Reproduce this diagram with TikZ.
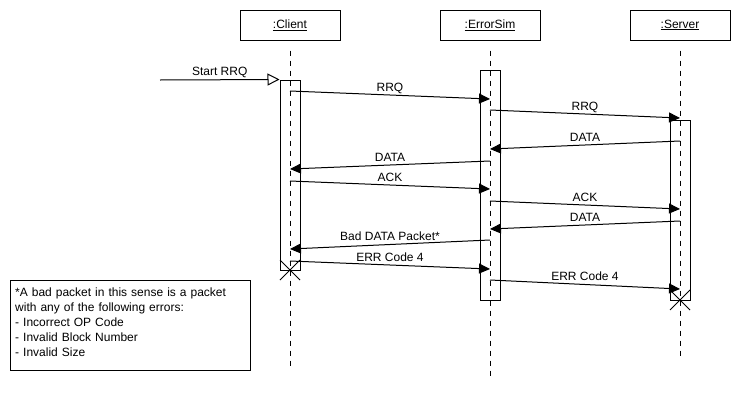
\documentclass[tikz,border=0pt]{standalone}
\usepackage{fontspec}
\setmainfont{Liberation Sans}
\usetikzlibrary{arrows.meta,calc}
\begin{document}
\begin{tikzpicture}[x=1pt,y=-1pt,
  txt/.style={font=\fontsize{12}{14}\selectfont},
  head/.style={draw, line width=1pt, minimum width=100pt, minimum height=30pt, inner sep=0pt, txt},
  life/.style={line width=1pt, dash pattern=on 5.3pt off 4.7pt},
  act/.style={draw, line width=1pt, inner sep=0pt, minimum width=20pt},
  msg/.style={line width=1pt, -{Triangle[length=11pt,width=10pt]}},
  found/.style={line width=1pt, -{Triangle[open,length=12pt,width=12pt]}},
  msglbl/.style={txt, anchor=base, yshift=4pt, inner sep=0pt},
  cross/.style={line width=0.8pt},
]
\useasboundingbox (0,0) rectangle (740,410);

% participants
\node[head] (client) at (290,25) {\underline{:Client}};
\node[head] (esim)   at (490,25) {\underline{:ErrorSim}};
\node[head] (server) at (680,25) {\underline{:Server}};

% lifeline ends
\coordinate (cend) at (290,368);
\coordinate (eend) at (490,380);
\coordinate (send) at (680,356);

% activation bars
\node[act, minimum height=190pt] (cact) at (290,175) {};
\node[act, minimum height=230pt] (eact) at (490,185) {};
\node[act, minimum height=180pt] (sact) at (680,210) {};

% lifelines
\draw[life] ([yshift=-10pt]client.south) -- (cend);
\draw[life] ([yshift=-10pt]esim.south) -- (eend);
\draw[life] ([yshift=-10pt]server.south) -- (send);

% message end points
\coordinate (start) at (160,80);
\coordinate (m1a) at (290,91);   \coordinate (m1b) at (490,99);
\coordinate (m2a) at (490,110);  \coordinate (m2b) at (680,118);
\coordinate (m3a) at (680,141);  \coordinate (m3b) at (490,149);
\coordinate (m4a) at (490,161);  \coordinate (m4b) at (290,169);
\coordinate (m5a) at (290,181);  \coordinate (m5b) at (490,189);
\coordinate (m6a) at (490,201);  \coordinate (m6b) at (680,209);
\coordinate (m7a) at (680,221);  \coordinate (m7b) at (490,229);
\coordinate (m8a) at (490,240);  \coordinate (m8b) at (290,249);
\coordinate (m9a) at (290,261);  \coordinate (m9b) at (490,269);
\coordinate (m10a) at (490,280); \coordinate (m10b) at (680,289);

% messages
\draw[found] (start) -- node[msglbl] {Start RRQ} (cact.north west);
\draw[msg] (m1a) -- node[msglbl] {RRQ} (m1b);
\draw[msg] (m2a) -- node[msglbl] {RRQ} (m2b);
\draw[msg] (m3a) -- node[msglbl] {DATA} (m3b);
\draw[msg] (m4a) -- node[msglbl] {DATA} (m4b);
\draw[msg] (m5a) -- node[msglbl] {ACK} (m5b);
\draw[msg] (m6a) -- node[msglbl] {ACK} (m6b);
\draw[msg] (m7a) -- node[msglbl] {DATA} (m7b);
\draw[msg] (m8a) -- node[msglbl] {Bad DATA Packet*} (m8b);
\draw[msg] (m9a) -- node[msglbl] {ERR Code 4} (m9b);
\draw[msg] (m10a) -- node[msglbl] {ERR Code 4} (m10b);

% destruction marks
\coordinate (cx) at (290,270);
\coordinate (sx) at (680,300);
\draw[cross] ($(cx)+(-10,-10)$) -- ($(cx)+(10,10)$);
\draw[cross] ($(cx)+(10,-10)$) -- ($(cx)+(-10,10)$);
\draw[cross] ($(sx)+(-10,-10)$) -- ($(sx)+(10,10)$);
\draw[cross] ($(sx)+(10,-10)$) -- ($(sx)+(-10,10)$);

% footnote
\node[draw, line width=1pt, anchor=north west, minimum width=240pt, minimum height=90pt,
      inner sep=0pt] (note) at (10,280) {};
\node[anchor=base west, inner sep=0pt, text width=230pt, align=left,
      font=\fontsize{12}{15}\selectfont] (notetext) at (15,296)
  {*A bad packet in this sense is a packet\\
   with any of the following errors:\\
   - Incorrect OP Code\\
   - Invalid Block Number\\
   - Invalid Size};
\end{tikzpicture}
\end{document}
